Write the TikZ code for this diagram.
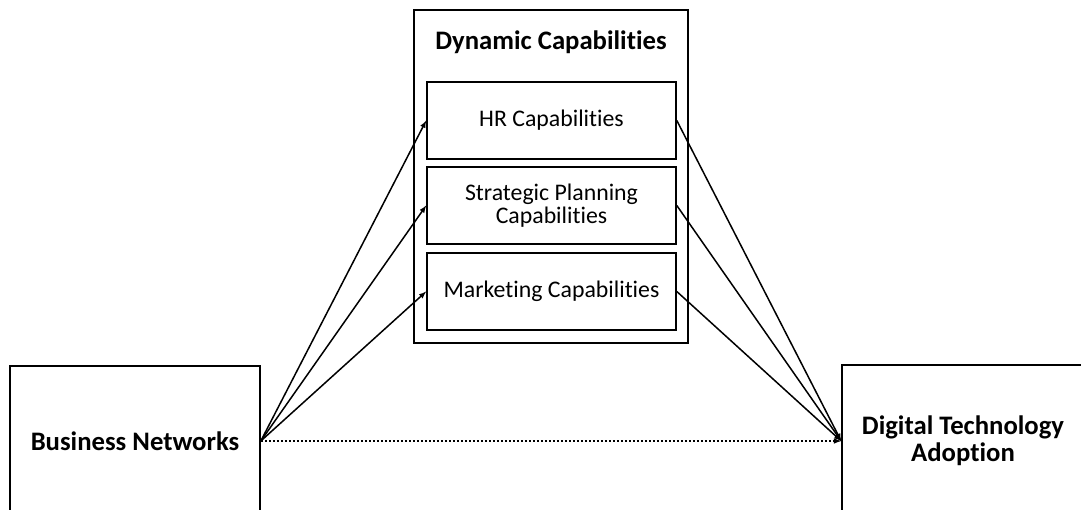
\documentclass[tikz,border=0pt]{standalone}
\usepackage{fontspec}
\setmainfont{Carlito}[Ligatures=NoCommon]
\usetikzlibrary{arrows,positioning}
\begin{document}
\begin{tikzpicture}[x=1pt,y=-1pt,
  box/.style={draw,line width=1.6pt,inner sep=0pt,align=center},
  capbox/.style={box,minimum width=249pt,minimum height=77pt,font=\fontsize{23.8}{23}\selectfont},
  mainbox/.style={box,font=\fontsize{26.7}{27}\selectfont\bfseries},
  link/.style={line width=1.5pt,-latex}]
\useasboundingbox (0,0) rectangle (1081,509);
\clip (0,0) rectangle (1081,509);
\node[box,minimum width=274pt,minimum height=333pt] (dc) at (551,176.5) {};
\node[font=\fontsize{26.7}{27}\selectfont\bfseries] (dctitle) at (551,42) {Dynamic Capabilities};
\node[capbox] (hr) at (551.5,120.5) {HR Capabilities};
\node[capbox] (sp) at (551.5,205.5) {Strategic Planning\\Capabilities};
\node[capbox] (mk) at (551.5,291.5) {Marketing Capabilities};
\node[mainbox,minimum width=250pt,minimum height=150pt] (bn) at (135,441) {Business Networks};
\node[mainbox,minimum width=242pt,minimum height=152pt] (dta) at (963,441) {Digital Technology\\Adoption};
\draw[link] (bn.east) -- (hr.west);
\draw[link] (bn.east) -- (sp.west);
\draw[link] (bn.east) -- (mk.west);
\draw[link] (hr.east) -- (dta.west);
\draw[link] (sp.east) -- (dta.west);
\draw[link] (mk.east) -- (dta.west);
\draw[link,dash pattern=on 2pt off 2pt] (bn.east) -- (dta.west);
\end{tikzpicture}
\end{document}
